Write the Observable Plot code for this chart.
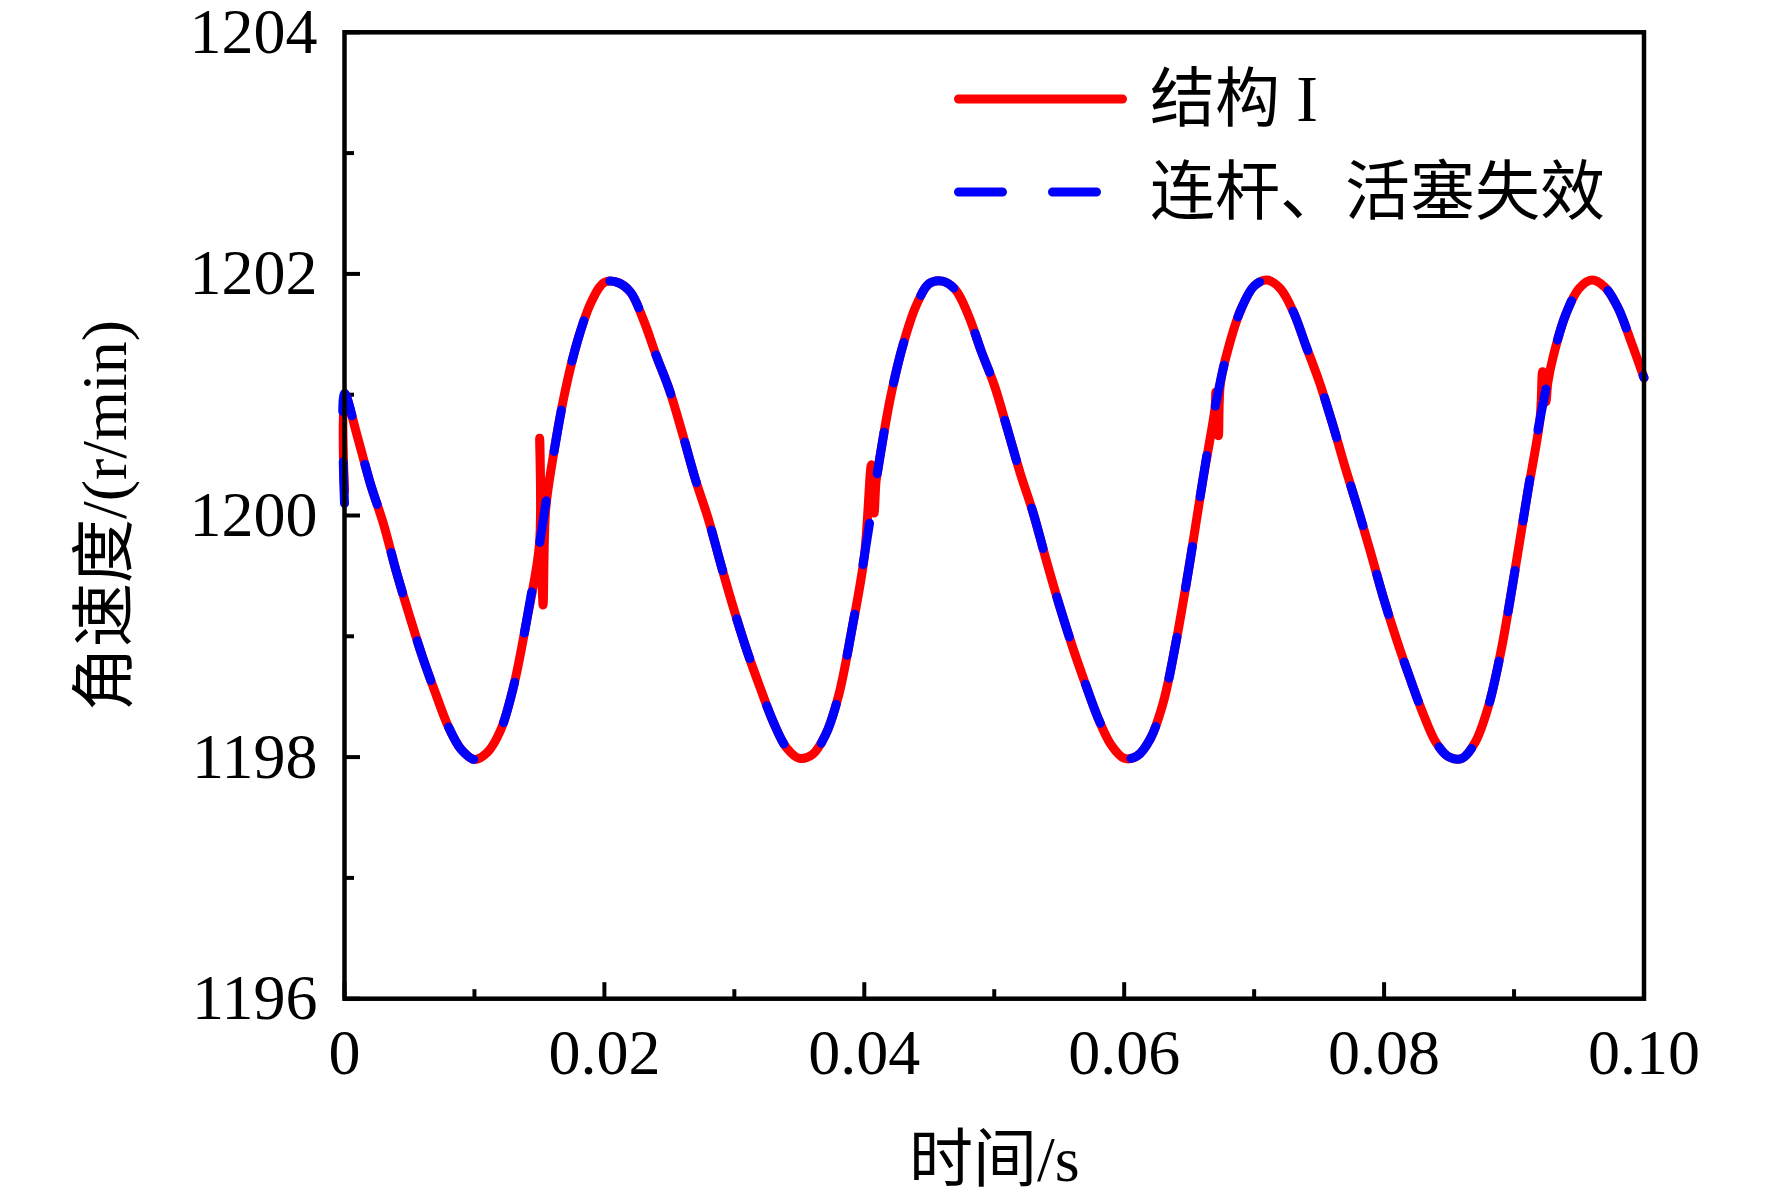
<!DOCTYPE html>
<html><head><meta charset="utf-8">
<script src="https://cdn.jsdelivr.net/npm/d3@7"></script>
<script src="https://cdn.jsdelivr.net/npm/@observablehq/plot@0.6"></script>
<style>
body{margin:0;background:#fff;}
#wrap{position:relative;width:1772px;height:1200px;}
#legend{position:absolute;left:0;top:0;}
</style></head><body><div id="wrap"></div>
<script>
// ---- data ----
const xTitle = "时间/s";
const yTitle = "角速度/(r/min)";
const seriesNames = ["结构 I", "连杆、活塞失效"];
const xMajor = [0, 0.02, 0.04, 0.06, 0.08, 0.10];
const xMajorLabels = ["0", "0.02", "0.04", "0.06", "0.08", "0.10"];
const xMinor = [0.01, 0.03, 0.05, 0.07, 0.09];
const yMajor = [1196, 1198, 1200, 1202, 1204];
const yMinor = [1197, 1199, 1201, 1203];

// sample times: every 0.001 s from 0 to 0.1 s
const sampleTimes = d3.range(0, 101).map(k => k / 1000);
// angular speed (r/min) at each sample time (common to both series)
const speedValues = [
  1201.01, 1200.65, 1200.26, 1199.93, 1199.53, 1199.17, 1198.83, 1198.53, 1198.25, 1198.06,
  1197.98, 1198.04, 1198.22, 1198.58, 1199.12, 1199.76, 1200.45, 1201.04, 1201.47, 1201.77,
  1201.93, 1201.93, 1201.85, 1201.62, 1201.32, 1201.04, 1200.68, 1200.30, 1199.97, 1199.58,
  1199.21, 1198.87, 1198.57, 1198.29, 1198.08, 1197.99, 1198.02, 1198.18, 1198.50, 1199.03,
  1199.66, 1200.35, 1200.97, 1201.42, 1201.74, 1201.92, 1201.94, 1201.87, 1201.66, 1201.36,
  1201.08, 1200.72, 1200.35, 1200.02, 1199.63, 1199.26, 1198.92, 1198.61, 1198.32, 1198.10,
  1197.99, 1198.01, 1198.15, 1198.45, 1198.96, 1199.58, 1200.26, 1200.90, 1201.38, 1201.71,
  1201.90, 1201.95, 1201.88, 1201.69, 1201.40, 1201.11, 1200.77, 1200.40, 1200.05, 1199.68,
  1199.30, 1198.96, 1198.65, 1198.36, 1198.12, 1198.00, 1197.99, 1198.12, 1198.41, 1198.88,
  1199.50, 1200.16, 1200.80, 1201.31, 1201.67, 1201.88, 1201.95, 1201.89, 1201.72, 1201.44,
  1201.14
];
// extra points of 结构 I (start value and the short spikes)
const redExtraTimes  = [0,       0.01502, 0.01528, 0.01548, 0.04055, 0.04075, 0.04090, 0.06705, 0.06725, 0.06740, 0.09220, 0.09245, 0.09260];
const redExtraValues = [1200.20, 1200.64, 1199.26, 1200.05, 1200.42, 1200.02, 1200.28, 1201.02, 1200.66, 1201.09, 1201.19, 1200.94, 1201.10];
// extra points of 连杆、活塞失效 (start value)
const blueExtraTimes  = [0];
const blueExtraValues = [1200.10];

// ---- build tables ----
function build(extraT, extraV) {
  const extra = extraT.map((t, i) => ({t, v: extraV[i], o: 0}));
  const base = sampleTimes.map((t, i) => ({t, v: speedValues[i], o: 1}));
  return extra.concat(base).sort((a, b) => a.t - b.t || a.o - b.o);
}
const redData = build(redExtraTimes, redExtraValues);
const blueData = build(blueExtraTimes, blueExtraValues);

// ---- layout ----
const W = 1772, H = 1200;
const mL = 344, mR = 128.5, mT = 31.8, mB = 201.8;
const fw = W - mL - mR, fh = H - mT - mB;
const FONT = "'Liberation Serif','Noto Sans CJK SC',serif";
const RED = "#ff0000", BLUE = "#0000ff";

const chart = Plot.plot({
  width: W, height: H,
  marginLeft: mL, marginRight: mR, marginTop: mT, marginBottom: mB,
  style: {fontFamily: FONT, fontSize: "64px", background: "white", color: "black", overflow: "visible"},
  x: {domain: [0, 0.1]},
  y: {domain: [1196, 1204]},
  marks: [
    Plot.ruleX(xMinor, {x: d => d, insetTop: fh - 9, stroke: "black", strokeWidth: 4}),
    Plot.ruleX(xMajor, {x: d => d, insetTop: fh - 16, stroke: "black", strokeWidth: 4}),
    Plot.ruleY(yMinor, {y: d => d, insetRight: fw - 10, stroke: "black", strokeWidth: 4}),
    Plot.ruleY(yMajor, {y: d => d, insetRight: fw - 16, stroke: "black", strokeWidth: 4}),
    Plot.axisX({ticks: xMajor, tickSize: 0, tickPadding: 30, label: null,
      tickFormat: d => xMajorLabels[xMajor.indexOf(d)], fontSize: 64}),
    Plot.axisY({ticks: yMajor, tickSize: 0, tickPadding: 27, label: null,
      tickFormat: d => String(d), fontSize: 64}),
    Plot.line(redData, {x: "t", y: "v", stroke: RED, strokeWidth: 9, curve: "catmull-rom",
      strokeLinecap: "round", strokeLinejoin: "round"}),
    Plot.line(blueData, {x: "t", y: "v", stroke: BLUE, strokeWidth: 9, curve: "catmull-rom",
      strokeDasharray: "42,50", strokeLinecap: "round", strokeLinejoin: "round"}),
    Plot.frame({stroke: "black", strokeWidth: 4.5}),
    Plot.text([xTitle], {frameAnchor: "bottom", dy: 162, fontSize: 64, lineAnchor: "middle", textAnchor: "middle"}),
    Plot.text([yTitle], {frameAnchor: "left", dx: -239, rotate: -90, fontSize: 64, lineAnchor: "middle", textAnchor: "middle"})
  ]
});
const wrap = document.getElementById("wrap");
wrap.appendChild(chart);

// ---- legend (overlay, inside the plot frame at top right) ----
const lg = d3.create("svg").attr("id", "legend").attr("width", W).attr("height", H)
  .style("font-family", FONT);
const items = [
  {name: seriesNames[0], color: RED, dash: null, y: 99},
  {name: seriesNames[1], color: BLUE, dash: "44,50", y: 192}
];
for (const it of items) {
  lg.append("line").attr("x1", 958.5).attr("x2", 1122.5).attr("y1", it.y).attr("y2", it.y)
    .attr("stroke", it.color).attr("stroke-width", 9).attr("stroke-linecap", "round")
    .attr("stroke-dasharray", it.dash);
  lg.append("text").attr("x", 1150).attr("y", it.y).attr("dominant-baseline", "central")
    .attr("font-size", 65).attr("fill", "black").text(it.name);
}
wrap.appendChild(lg.node());
</script></body></html>
